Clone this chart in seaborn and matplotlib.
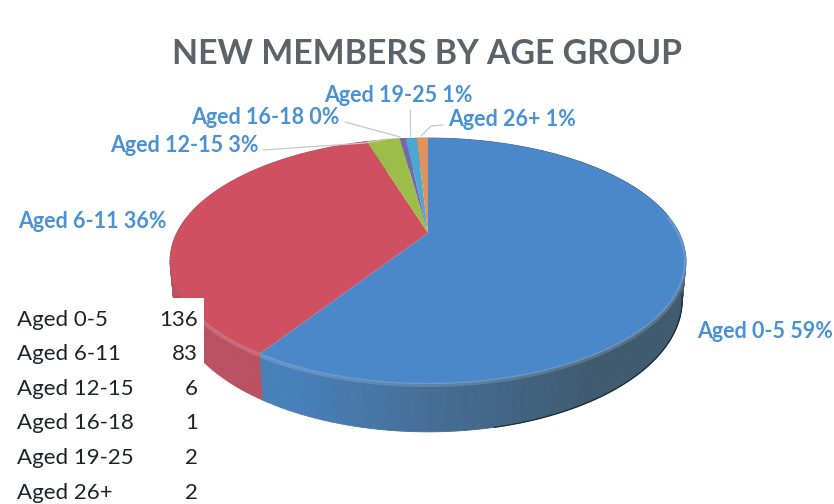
# New members by age group - tilted pie with a perspective top and a side band
import numpy as np
import matplotlib
matplotlib.use('Agg')
import matplotlib.pyplot as plt
from matplotlib.colors import to_rgb
from matplotlib.transforms import Transform
import seaborn as sns

categories = ['Aged 0-5', 'Aged 6-11', 'Aged 12-15', 'Aged 16-18', 'Aged 19-25', 'Aged 26+']
members = [136, 83, 6, 1, 2, 2]
slice_colors = ['#4a88c9', '#cf5060', '#9dbd4a', '#7a66ad', '#4ba8d2', '#e0935c']

sns.set_theme(style='white')
plt.rcParams['font.family'] = ['Lato', 'DejaVu Sans']

# Perspective used for the disc (pixel units of the picture)
CX, CY = 428, 233
A, B, K = 251.2, 116.6, 0.2276
DEPTH = 37


def project(u, v, drop=0.0, shrink=1.0):
    w = 1 + K * v
    return CX + shrink * A * u / w, CY - B * v / w + drop / w


class Perspective(Transform):
    input_dims = output_dims = 2
    is_separable = False
    has_inverse = False

    def transform_non_affine(self, values):
        xs, ys = project(values[:, 0], values[:, 1])
        return np.column_stack([xs, ys])


fig = plt.figure(figsize=(8.34, 5.04), dpi=100, facecolor='white')
ax = fig.add_axes([0, 0, 1, 1])

wedges, _ = ax.pie(members, colors=slice_colors, startangle=90, counterclock=False,
                   wedgeprops={'linewidth': 0, 'edgecolor': 'none'})
ax.set_aspect('auto')
ax.set_xlim(0, 834)
ax.set_ylim(504, 0)
ax.axis('off')

# Side band, drawn under the top face in thin strips so the shading can change
dark = np.array(to_rgb('#3f5566'))
for wedge in wedges:
    base = np.array(wedge.get_facecolor()[:3])
    edges = np.arange(wedge.theta1, wedge.theta2 + 1.5, 1.5)
    edges[-1] = wedge.theta2
    for t1, t2 in zip(edges[:-1], edges[1:]):
        th = np.radians([t1, t2])
        x0, y0 = project(np.cos(th), np.sin(th))
        x1, y1 = project(np.cos(th), np.sin(th), drop=DEPTH, shrink=0.985)
        f = np.clip((x0.mean() - 230) / 400, 0.15, 0.9)
        col = base * (1 - f) + dark * f
        ax.fill([x0[0], x0[1], x1[1], x1[0]], [y0[0], y0[1], y1[1], y1[0]],
                color=col, lw=0.6, zorder=1)

# Top face: the pie wedges themselves, pushed through the perspective
persp = Perspective() + ax.transData
for wedge in wedges:
    wedge.set_transform(persp)
    wedge.set_zorder(2)

# Soft bevel along the front rim and the dark scan edge on the right
th = np.radians(np.linspace(-145, 8, 240))
rx, ry = project(np.cos(th), np.sin(th))
ax.plot(rx, ry + 1, color='white', alpha=0.15, lw=3, zorder=3)
th = np.radians(np.linspace(-78, -11, 120))
rx, ry = project(np.cos(th), np.sin(th), drop=DEPTH, shrink=0.985)
ax.plot(rx, ry, color='#1d2a35', lw=0.9, zorder=3)

# Title
ax.text(427, 54, 'NEW MEMBERS BY AGE GROUP', ha='center', va='center',
        fontsize=24.3, fontweight='bold', color='#5b6269', zorder=5)

# Slice labels
shares = [round(100 * m / sum(members)) for m in members]
labels = [f'{c} {s}%' for c, s in zip(categories, shares)]
label_pos = [(697, 331, 'left'), (167, 221, 'right'), (259, 145, 'right'),
             (340, 118, 'right'), (473, 96, 'right'), (448, 119, 'left')]
for text, (x, y, ha) in zip(labels, label_pos):
    ax.text(x, y, text, ha=ha, va='center', fontsize=15.5, fontweight='bold',
            color='#4a92d4', zorder=5)

# Leader lines
leaders = [([263, 365, 388], [150, 143, 139]),
           ([345, 400], [122, 137]),
           ([410, 410], [110, 136]),
           ([443, 431, 421], [125, 126, 136])]
for lx, ly in leaders:
    ax.plot(lx, ly, color='#c4c8cc', lw=0.9, zorder=3)

# Pasted count table, white box covering the pie corner
ax.fill([0, 204, 204, 0], [298, 298, 504, 504], color='white', lw=0, zorder=4)
row_y = [320, 354, 389, 423, 458, 493]
for name, n, y in zip(categories, members, row_y):
    ax.text(17, y, name, ha='left', va='center', fontsize=16, color='#1f2327', zorder=5)
    ax.text(198, y, str(n), ha='right', va='center', fontsize=16, color='#1f2327', zorder=5)

fig.savefig('out.png', dpi=100)
